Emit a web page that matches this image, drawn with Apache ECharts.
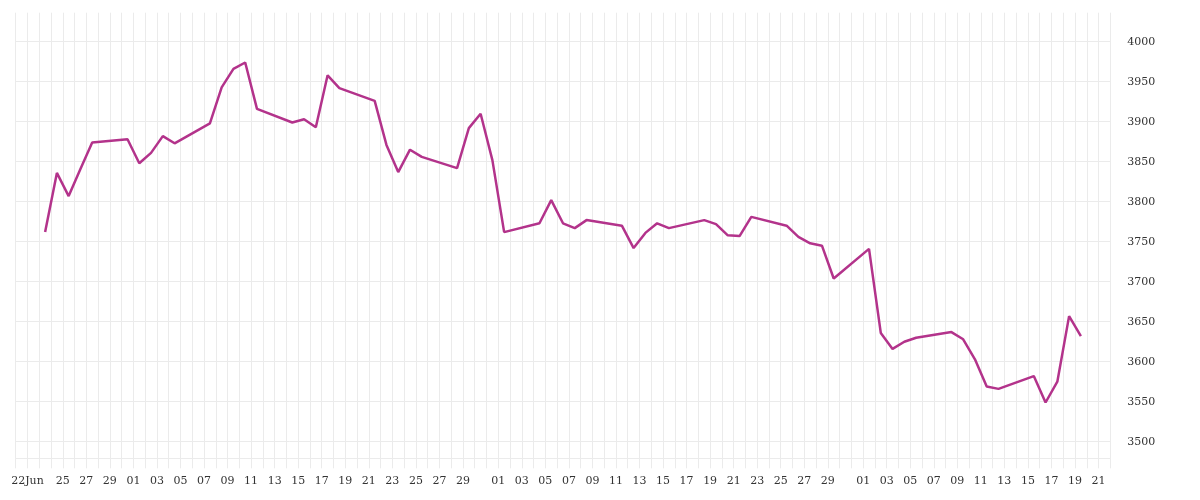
<!DOCTYPE html>
<html>
<head>
<meta charset="utf-8">
<script src="https://cdn.jsdelivr.net/npm/echarts@6/dist/echarts.min.js"></script>
<style>
html,body{margin:0;padding:0;background:#fff;}
#chart{width:1200px;height:500px;}
</style>
</head>
<body>
<div id="chart"></div>
<script>
// ---- data (2025) ----
const dates = [
  '06-23','06-24','06-25','06-26','06-27','06-30',
  '07-01','07-02','07-03','07-04','07-07','07-08','07-09','07-10','07-11',
  '07-14','07-15','07-16','07-17','07-18','07-21','07-22','07-23','07-24','07-25',
  '07-28','07-29','07-30','07-31','08-01',
  '08-04','08-05','08-06','08-07','08-08','08-11','08-12','08-13','08-14','08-15',
  '08-18','08-19','08-20','08-21','08-22','08-25','08-26','08-27','08-28','08-29',
  '09-01','09-02','09-03','09-04','09-05','09-08','09-09','09-10','09-11','09-12',
  '09-15','09-16','09-17','09-18','09-19'
];
const values = [
  3762,3836,3807,3841,3874,3878,
  3848,3861,3882,3873,3898,3943,3966,3974,3916,
  3899,3903,3893,3958,3942,3926,3871,3837,3865,3856,
  3842,3892,3910,3852,3762,
  3773,3802,3773,3767,3777,3770,3742,3761,3773,3767,
  3777,3772,3758,3757,3781,3770,3756,3748,3745,3704,
  3741,3636,3616,3625,3630,3637,3628,3603,3569,3566,
  3582,3549,3575,3657,3632
];
const tickDates = [
  '06-22','06-25','06-27','06-29',
  '07-01','07-03','07-05','07-07','07-09','07-11','07-13','07-15','07-17','07-19','07-21','07-23','07-25','07-27','07-29',
  '08-01','08-03','08-05','08-07','08-09','08-11','08-13','08-15','08-17','08-19','08-21','08-23','08-25','08-27','08-29',
  '09-01','09-03','09-05','09-07','09-09','09-11','09-13','09-15','09-17','09-19','09-21'
];
const tickTexts = [
  '22Jun','25','27','29',
  '01','03','05','07','09','11','13','15','17','19','21','23','25','27','29',
  '01','03','05','07','09','11','13','15','17','19','21','23','25','27','29',
  '01','03','05','07','09','11','13','15','17','19','21'
];
const yTicks = [3500,3550,3600,3650,3700,3750,3800,3850,3900,3950,4000];

// ---- helpers ----
const YEAR = 2025;
const BASE = Date.UTC(YEAR, 5, 22);
function dayIndex(md){
  const [m,d] = md.split('-').map(Number);
  return Math.round((Date.UTC(YEAR, m-1, d) - BASE) / 86400000);
}
const seriesData = dates.map((d,i) => [dayIndex(d) + 0.5, values[i]]);
const tickMap = {};
tickDates.forEach((d,i) => { tickMap[dayIndex(d)] = tickTexts[i]; });

const FONT = 'DejaVu Serif';
const GRID_COLOR = '#ebebeb';
const X_MIN = -1, X_MAX = 92;

const chart = echarts.init(document.getElementById('chart'), null, {renderer:'canvas'});
chart.setOption({
  animation: false,
  backgroundColor: '#ffffff',
  grid: [
    {left: 15.7, right: 89.7, top: 1.7, bottom: 18.3, outerBoundsMode: 'none', containLabel: false},
    {left: 15.7, right: 89.7, top: 12.7, bottom: 41.7, outerBoundsMode: 'none', containLabel: false}
  ],
  xAxis: [
    {
      type: 'value', gridIndex: 0, min: X_MIN, max: X_MAX, show: false,
      splitLine: {show: false}
    },
    {
      type: 'value', gridIndex: 1, min: X_MIN, max: X_MAX, interval: 1,
      axisLine: {show: true, lineStyle: {color: GRID_COLOR, width: 1}},
      axisTick: {show: true, length: 10, lineStyle: {color: GRID_COLOR, width: 1}},
      splitLine: {show: true, lineStyle: {color: GRID_COLOR, width: 1}},
      axisLabel: {
        margin: 17,
        color: '#333',
        fontFamily: FONT,
        fontSize: 11,
        showMinLabel: true, showMaxLabel: true,
        formatter: v => (tickMap[Math.round(v)] !== undefined ? tickMap[Math.round(v)] : '')
      }
    }
  ],
  yAxis: [
    {
      type: 'value', gridIndex: 0, position: 'right',
      min: 3450, max: 4050, interval: 50,
      axisLine: {show: false}, axisTick: {show: false},
      splitLine: {show: true, showMinLine: false, showMaxLine: false, lineStyle: {color: GRID_COLOR, width: 1}},
      axisLabel: {
        margin: 17, color: '#333', fontFamily: FONT, fontSize: 11,
        showMinLabel: false, showMaxLabel: false,
        formatter: v => (yTicks.indexOf(v) >= 0 ? String(v) : '')
      }
    },
    {
      type: 'value', gridIndex: 1, show: false, min: 0, max: 1,
      splitLine: {show: false}
    }
  ],
  series: [{
    type: 'line',
    xAxisIndex: 0, yAxisIndex: 0,
    data: seriesData,
    showSymbol: false,
    symbol: 'none',
    lineStyle: {color: '#b3338b', width: 2.5},
    itemStyle: {color: '#b3338b'}
  }]
});
</script>
</body>
</html>
